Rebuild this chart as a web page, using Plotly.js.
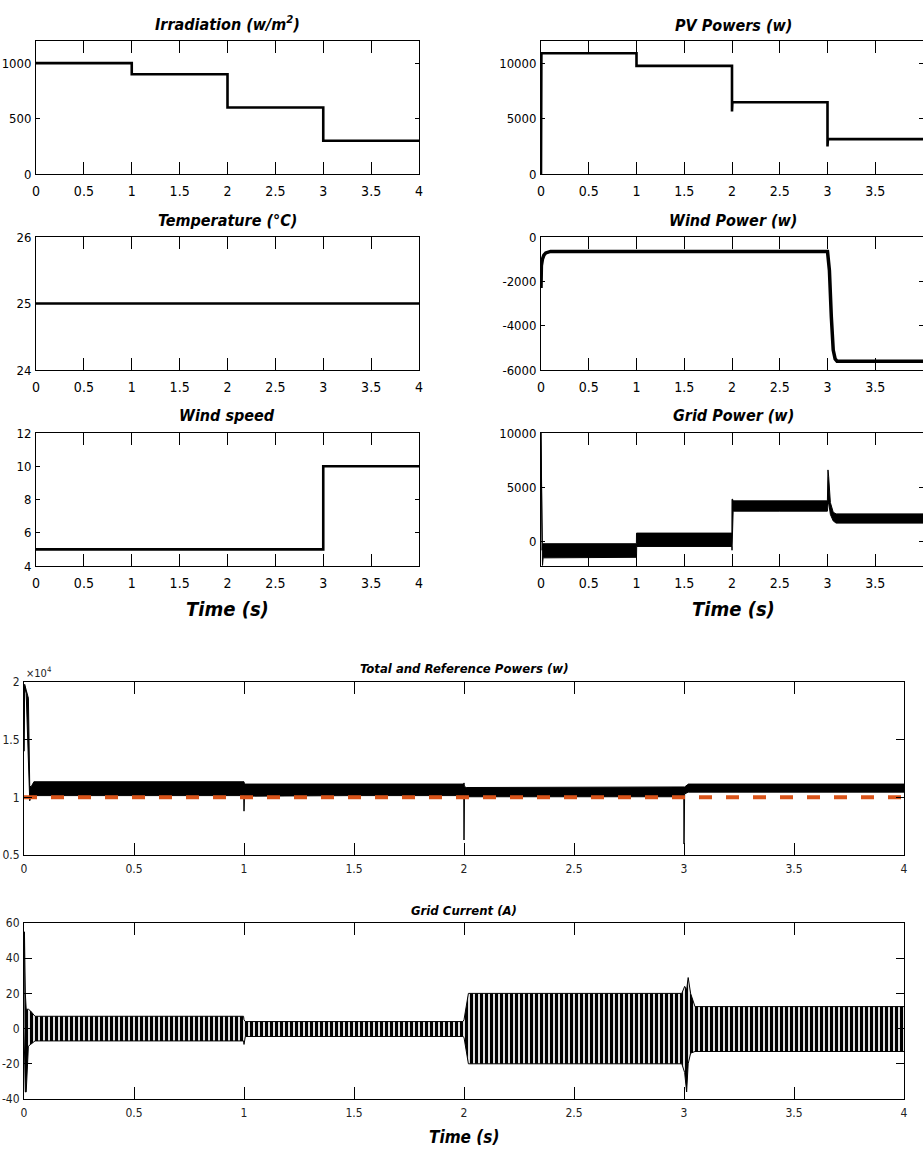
<!DOCTYPE html>
<html>
<head>
<meta charset="utf-8">
<script src="https://cdn.plot.ly/plotly-3.0.1.min.js"></script>
<style>html,body{margin:0;padding:0;background:#fff;}#chart{width:923px;height:1151px;}</style>
</head>
<body>
<div id="chart"></div>
<script>
// ---------------- DATA ----------------
// Irradiation (W/m^2), step signal
var irrT = [0, 1, 2, 3, 4];
var irrV = [1000, 900, 600, 300, 300];

// Temperature (°C)
var tempT = [0, 4];
var tempV = [25, 25];

// Wind speed (m/s), step signal
var wsT = [0, 3, 4];
var wsV = [5, 10, 10];

// PV power (W)
var pvT = [0, 0.004, 1.0, 1.0, 2.0, 2.0, 2.004, 3.0, 3.0, 3.004, 4.0];
var pvV = [0, 10900, 10900, 9760, 9760, 5650, 6480, 6480, 2480, 3150, 3150];

// Wind power (W)
var wpT = [0, 0.004, 0.015, 0.03, 0.05, 0.1, 3.0, 3.02, 3.04, 3.06, 3.08, 3.1, 4.0];
var wpV = [-2300, -1300, -1000, -820, -720, -650, -650, -1500, -3600, -5100, -5500, -5600, -5600];

// Grid power (W): upper / lower envelope of the ripple band
var gpT  = [0, 0.004, 0.008, 0.012, 0.016, 0.022, 0.5, 0.999, 1.0, 1.002, 1.5, 1.999, 2.0, 2.006, 2.012, 2.5, 2.999, 3.005, 3.012, 3.03, 3.06, 3.09, 3.5, 4.0];
var gpHi = [10000, 6600, 6400, -800, -300, -200, -200, -200, 780, 780, 780, 780, 3900, 3900, 3750, 3750, 3750, 6600, 6000, 3600, 2700, 2550, 2550, 2550];
var gpLo = [10000, 6400, 6200, -2200, -2200, -1500, -1450, -1450, -1450, -450, -450, -450, -800, 2750, 2800, 2800, 2800, 3400, 3600, 2500, 1900, 1700, 1700, 1700];

// Total power (W): upper / lower envelope
var tpT  = [0, 0.003, 0.01, 0.02, 0.026, 0.032, 0.045, 0.5, 0.999, 1.0, 1.002, 1.5, 1.999, 2.0, 2.002, 2.01, 2.5, 2.999, 3.0, 3.003, 3.02, 3.5, 4.0];
var tpHi = [14000, 19800, 19300, 18600, 11000, 10900, 11350, 11350, 11350, 11350, 11150, 11150, 11150, 11250, 10950, 10850, 10850, 10850, 10850, 10900, 11150, 11150, 11150];
var tpLo = [14000, 19600, 19000, 14000, 9700, 10100, 10150, 10150, 10150, 8800, 10100, 10150, 10150, 6300, 9950, 10050, 10050, 10050, 5950, 10300, 10450, 10450, 10450];

// Reference power (W)
var refT = [0, 4];
var refV = [10000, 10000];

// Grid current (A): upper / lower envelope of the 50 Hz oscillation
var gcT  = [0, 0.002, 0.006, 0.01, 0.015, 0.02, 0.03, 0.05, 0.5, 0.998, 1.0, 1.006, 1.5, 1.995, 2.0, 2.02, 2.5, 2.99, 3.003, 3.012, 3.019, 3.03, 3.05, 3.5, 4.0];
var gcHi = [0, 55, 20, 11, 11, 11, 10, 7, 7, 7, 5, 4, 4, 4, 5, 20, 20, 20, 24, 22, 29, 20, 12.5, 12.5, 12.5];
var gcLo = [0, -20, -36, -36, -20, -10, -9, -7, -7, -7, -9, -4.5, -4.5, -4.5, -5, -20, -20, -20, -25, -36, -20, -14, -13, -13, -13];

// Tick values / labels
var xTicks = [0, 0.5, 1, 1.5, 2, 2.5, 3, 3.5, 4];
var xTickText = ['0', '0.5', '1', '1.5', '2', '2.5', '3', '3.5', '4'];
var irrTicks = [0, 500, 1000];
var irrTickText = ['0', '500', '1000'];
var pvTicks = [0, 5000, 10000];
var pvTickText = ['0', '5000', '10000'];
var tempTicks = [24, 25, 26];
var tempTickText = ['24', '25', '26'];
var wpTicks = [-6000, -4000, -2000, 0];
var wpTickText = ['-6000', '-4000', '-2000', '0'];
var wsTicks = [4, 6, 8, 10, 12];
var wsTickText = ['4', '6', '8', '10', '12'];
var gpTicks = [0, 5000, 10000];
var gpTickText = ['0', '5000', '10000'];
var tpTicks = [5000, 10000, 15000, 20000];
var tpTickText = ['0.5', '1', '1.5', '2'];
var gcTicks = [-40, -20, 0, 20, 40, 60];
var gcTickText = ['-40', '-20', '0', '20', '40', '60'];

// ---------------- LAYOUT ----------------
var W = 923, H = 1151;
var NARROW = 'Liberation Sans Narrow, Arial Narrow, DejaVu Sans Condensed, Liberation Sans, sans-serif';
function px(x) { return x / W; }
function py(y) { return 1 - y / H; }

function xAxis(dom, anchor, opts) {
  return Object.assign({
    domain: dom, anchor: anchor, range: [0, 4], tickvals: xTicks, ticktext: xTickText,
    showline: true, linecolor: '#000', linewidth: 1, mirror: 'ticks', ticks: 'inside',
    ticklen: 12, tickwidth: 1, tickcolor: '#000', showgrid: false, zeroline: false,
    tickfont: { family: NARROW, size: 14, color: '#000' }, ticklabelstandoff: 4, fixedrange: true
  }, opts || {});
}
function yAxis(dom, anchor, range, tv, tt, opts) {
  var a = {
    domain: dom, anchor: anchor, range: range, tickvals: tv, ticktext: tt,
    showline: true, linecolor: '#000', linewidth: 1, mirror: 'ticks', ticks: 'inside',
    ticklen: 4, tickwidth: 1, tickcolor: '#000', showgrid: false, zeroline: false,
    tickfont: { family: NARROW, size: 13, color: '#000' }, ticklabelstandoff: 1, fixedrange: true
  };
  return Object.assign(a, opts || {});
}

var colL = [px(36), px(419)];
var colR = [px(541), px(923)];
var colB = [px(24), px(904)];
var row1 = [py(174), py(41)];
var row2 = [py(370), py(237)];
var row3 = [py(566), py(433)];
var rowB1 = [py(855), py(682)];
var rowB2 = [py(1099), py(923)];

var smallX = { tickfont: { family: NARROW, size: 12, color: '#222' }, ticklen: 12, ticklabelstandoff: 3 };
var smallY = { tickfont: { family: NARROW, size: 12, color: '#222' }, ticklen: 8, ticklabelstandoff: 1 };

var layout = {
  width: W, height: H, margin: { l: 0, r: 0, t: 0, b: 0 },
  paper_bgcolor: '#fff', plot_bgcolor: '#fff', showlegend: false,
  xaxis:  xAxis(colL, 'y'),
  yaxis:  yAxis(row1, 'x', [0, 1200], irrTicks, irrTickText),
  xaxis2: xAxis(colR, 'y2'),
  yaxis2: yAxis(row1, 'x2', [0, 12000], pvTicks, pvTickText),
  xaxis3: xAxis(colL, 'y3'),
  yaxis3: yAxis(row2, 'x3', [24, 26], tempTicks, tempTickText),
  xaxis4: xAxis(colR, 'y4'),
  yaxis4: yAxis(row2, 'x4', [-6000, 0], wpTicks, wpTickText),
  xaxis5: xAxis(colL, 'y5'),
  yaxis5: yAxis(row3, 'x5', [4, 12], wsTicks, wsTickText),
  xaxis6: xAxis(colR, 'y6'),
  yaxis6: yAxis(row3, 'x6', [-2250, 10000], gpTicks, gpTickText),
  xaxis7: xAxis(colB, 'y7', smallX),
  yaxis7: yAxis(rowB1, 'x7', [5000, 20000], tpTicks, tpTickText, smallY),
  xaxis8: xAxis(colB, 'y8', smallX),
  yaxis8: yAxis(rowB2, 'x8', [-40, 60], gcTicks, gcTickText, smallY),
  annotations: []
};

function title(text, x, y, size) {
  layout.annotations.push({
    text: '<b><i>' + text + '</i></b>', xref: 'paper', yref: 'paper',
    x: px(x), y: py(y), xanchor: 'center', yanchor: 'middle', showarrow: false,
    font: { family: NARROW, size: size, color: '#000' }
  });
}
title('Irradiation (w/m<sup>2</sup>)', 227, 24, 16);
title('PV Powers (w)', 733, 25, 16);
title('Temperature (°C)', 227, 221, 16);
title('Wind Power (w)', 733, 221, 16);
title('Wind speed', 227, 415, 16);
title('Grid Power (w)', 733, 415, 16);
title('Time (s)', 227, 609, 20);
title('Time (s)', 733, 609, 20);
title('Total and Reference Powers (w)', 464, 668, 13);
title('Grid Current (A)', 464, 910, 13);
title('Time (s)', 464, 1137, 17);
layout.annotations.push({
  text: '×10<sup>4</sup>', xref: 'paper', yref: 'paper', x: px(24), y: py(672),
  xanchor: 'left', yanchor: 'middle', showarrow: false,
  font: { family: NARROW, size: 11, color: '#222' }
});

// ---------------- TRACES ----------------
var K = '#000';
function line(x, y, xa, ya, w, shape) {
  return { type: 'scatter', mode: 'lines', x: x, y: y, xaxis: xa, yaxis: ya,
           line: { color: K, width: w, shape: shape || 'linear' }, hoverinfo: 'skip' };
}
function band(x, lo, hi, xa, ya, pattern) {
  var lower = { type: 'scatter', mode: 'lines', x: x, y: lo, xaxis: xa, yaxis: ya,
                line: { color: K, width: 1 }, hoverinfo: 'skip' };
  var upper = { type: 'scatter', mode: 'lines', x: x, y: hi, xaxis: xa, yaxis: ya,
                line: { color: K, width: 1 }, fill: 'tonexty', fillcolor: K, hoverinfo: 'skip' };
  if (pattern) {
    upper.fillcolor = 'rgba(0,0,0,0)';
    upper.fillpattern = pattern;
  }
  return [lower, upper];
}

var data = [];
data.push(line(irrT, irrV, 'x', 'y', 2.6, 'hv'));
data.push(line(pvT, pvV, 'x2', 'y2', 2.6));
data.push(line(tempT, tempV, 'x3', 'y3', 2.6));
data.push(line(wpT, wpV, 'x4', 'y4', 3.5));
data.push(line(wsT, wsV, 'x5', 'y5', 2.6, 'hv'));
data = data.concat(band(gpT, gpLo, gpHi, 'x6', 'y6'));
data = data.concat(band(tpT, tpLo, tpHi, 'x7', 'y7'));
data.push({ type: 'scatter', mode: 'lines', x: refT, y: refV, xaxis: 'x7', yaxis: 'y7',
            line: { color: '#D95319', width: 4, dash: '13px,14px' }, hoverinfo: 'skip' });
data = data.concat(band(gcT, gcLo, gcHi, 'x8', 'y8',
  { shape: '|', size: 5, solidity: 0.65, fgcolor: '#000', fgopacity: 1, bgcolor: 'rgba(255,255,255,0)', fillmode: 'overlay' }));

Plotly.newPlot('chart', data, layout, { staticPlot: true, displayModeBar: false });
</script>
</body>
</html>
